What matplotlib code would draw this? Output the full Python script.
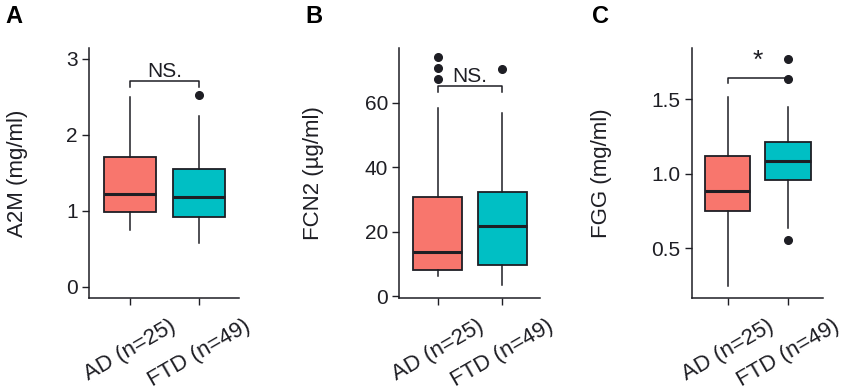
import matplotlib
matplotlib.use("Agg")
import matplotlib.pyplot as plt

plt.rcParams['font.family'] = ['Liberation Sans', 'DejaVu Sans']

groups = ["AD (n=25)", "FTD (n=49)"]
colors = ["#F8766D", "#00BFC4"]

# box stats: [AD, FTD]
a2m_med = [1.215, 1.176]
a2m_q1 = [0.98, 0.917]
a2m_q3 = [1.71, 1.55]
a2m_lo = [0.746, 0.57]
a2m_hi = [2.5, 2.24]
a2m_out = [[], [2.52]]

fcn2_med = [13.7, 21.9]
fcn2_q1 = [8.25, 9.6]
fcn2_q3 = [30.7, 32.3]
fcn2_lo = [6.4, 3.4]
fcn2_hi = [58.2, 56.7]
fcn2_out = [[74.0, 70.8, 67.2], [70.4]]

fgg_med = [0.882, 1.085]
fgg_q1 = [0.752, 0.960]
fgg_q3 = [1.121, 1.211]
fgg_lo = [0.248, 0.638]
fgg_hi = [1.513, 1.45]
fgg_out = [[], [1.772, 1.634, 0.560]]

panels = [
    dict(letter="A", ylabel="A2M (mg/ml)", med=a2m_med, q1=a2m_q1, q3=a2m_q3,
         lo=a2m_lo, hi=a2m_hi, out=a2m_out, ticks=[0, 1, 2, 3],
         ticklabels=["0", "1", "2", "3"], ylim=(-0.15, 3.14),
         bracket=2.7, tip=2.63, sig="NS."),
    dict(letter="B", ylabel="FCN2 (\u00b5g/ml)", med=fcn2_med, q1=fcn2_q1, q3=fcn2_q3,
         lo=fcn2_lo, hi=fcn2_hi, out=fcn2_out, ticks=[0, 20, 40, 60],
         ticklabels=["0", "20", "40", "60"], ylim=(-0.5, 76.9),
         bracket=65.1, tip=63.2, sig="NS."),
    dict(letter="C", ylabel="FGG (mg/ml)", med=fgg_med, q1=fgg_q1, q3=fgg_q3,
         lo=fgg_lo, hi=fgg_hi, out=fgg_out, ticks=[0.5, 1.0, 1.5],
         ticklabels=["0.5", "1.0", "1.5"], ylim=(0.168, 1.844),
         bracket=1.640, tip=1.607, sig="*"),
]

ax_lefts = [0.1047, 0.4698, 0.8138]
ax_widths = [0.1765, 0.1655, 0.1548]
bottom, height = 0.2379, 0.6393
letter_x = [0.006, 0.359, 0.696]
ylabel_x = [0.021, 0.369, 0.708]

fig = plt.figure(figsize=(8.5, 3.91), dpi=100)
ink = "#1e1e24"

for i, p in enumerate(panels):
    ax = fig.add_axes([ax_lefts[i], bottom, ax_widths[i], height])
    stats = []
    for j in range(2):
        stats.append(dict(med=p["med"][j], q1=p["q1"][j], q3=p["q3"][j],
                          whislo=p["lo"][j], whishi=p["hi"][j],
                          fliers=p["out"][j]))
    bp = ax.bxp(stats, positions=[1, 2], widths=0.75, patch_artist=True,
                showcaps=False,
                boxprops=dict(linewidth=1.3, edgecolor=ink),
                whiskerprops=dict(linewidth=1.1, color=ink),
                medianprops=dict(linewidth=2.2, color=ink),
                flierprops=dict(marker="o", markersize=5.5, markerfacecolor=ink,
                                markeredgecolor=ink))
    for patch, c in zip(bp["boxes"], colors):
        patch.set_facecolor(c)

    # significance bracket
    ax.plot([1, 1, 2, 2], [p["tip"], p["bracket"], p["bracket"], p["tip"]],
            color=ink, lw=1.1)
    if p["sig"] == "*":
        ax.text(1.5, p["bracket"] + 0.04, p["sig"], ha="center", va="bottom",
                fontsize=19, color=ink)
    else:
        ax.text(1.5, p["bracket"], p["sig"], ha="center", va="bottom",
                fontsize=15, color=ink)

    ax.set_xlim(0.41, 2.58)
    ax.set_ylim(*p["ylim"])
    ax.set_yticks(p["ticks"])
    ax.set_yticklabels(p["ticklabels"])
    ax.set_xticks([1, 2])
    ax.set_xticklabels(groups, rotation=30, ha="center", va="top")
    ax.tick_params(axis="y", labelsize=15, length=5, width=1, colors=ink, pad=3)
    ax.tick_params(axis="x", labelsize=16, length=5, width=1, colors=ink, pad=8)
    for s in ["top", "right"]:
        ax.spines[s].set_visible(False)
    for s in ["left", "bottom"]:
        ax.spines[s].set_linewidth(1.1)
        ax.spines[s].set_color(ink)

    fig.text(ylabel_x[i], 0.5575, p["ylabel"], rotation=90,
             ha="center", va="center", fontsize=16, color=ink)
    fig.text(letter_x[i], 0.987, p["letter"], ha="left", va="top",
             fontsize=17, fontweight="bold", color="black")

fig.savefig("out.png", dpi=100)
